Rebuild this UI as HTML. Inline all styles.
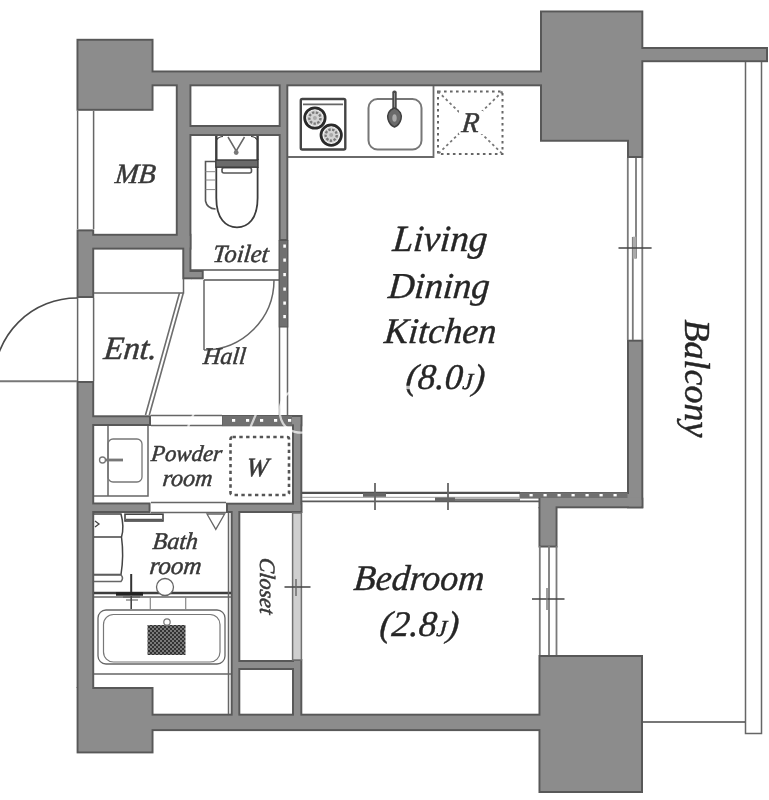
<!DOCTYPE html>
<html><head><meta charset="utf-8">
<style>
html,body{margin:0;padding:0;background:#fff;}
body{width:769px;height:800px;overflow:hidden;}
svg{display:block;filter:blur(0.45px);}
.t{font-family:"Liberation Serif",serif;font-style:italic;fill:#262626;stroke:#262626;stroke-width:0.42;}
.ln{fill:none;stroke:#666;stroke-width:1.5;}
.lk{fill:none;stroke:#555;stroke-width:1.3;}
.s{fill:#383838;stroke:#383838;stroke-width:0.5;}
.wf{fill:#8d8d8d;}
.ws{fill:#8d8d8d;stroke:#5f5f5f;stroke-width:2.6;stroke-linejoin:miter;}
</style></head>
<body>
<svg width="769" height="800" viewBox="0 0 769 800">
<defs>
<filter id="wallf" x="0" y="0" width="100%" height="100%" filterUnits="userSpaceOnUse">
  <feMorphology in="SourceAlpha" operator="erode" radius="1.7" result="er"/>
  <feFlood flood-color="#585858" result="dk"/>
  <feComposite in="dk" in2="SourceAlpha" operator="in" result="dks"/>
  <feComposite in="SourceGraphic" in2="er" operator="in" result="inner"/>
  <feMerge><feMergeNode in="dks"/><feMergeNode in="inner"/></feMerge>
</filter>
</defs>
<g filter="url(#wallf)" fill="#8c8c8c">
  <rect x="76.5" y="38.8" width="77.0" height="72.0"/>
  <rect x="153" y="70.5" width="387.5" height="15.8"/>
  <rect x="643" y="47" width="125" height="15.2"/>
  <rect x="175.8" y="85" width="15.6" height="164"/>
  <rect x="93" y="233.8" width="98.4" height="15.8"/>
  <rect x="76.6" y="229.4" width="17.6" height="68.6"/>
  <rect x="182.3" y="249" width="9.1" height="30.3"/>
  <rect x="191" y="270" width="12.7" height="9.3"/>
  <rect x="191" y="125" width="88" height="11"/>
  <rect x="278.7" y="85" width="9.6" height="156"/>
  <rect x="76.6" y="381" width="17.6" height="307"/>
  <rect x="76.6" y="687" width="76.9" height="66.4"/>
  <rect x="153" y="713.7" width="387" height="17.4"/>
  <rect x="538.5" y="655" width="104.5" height="138"/>
  <rect x="93" y="415.3" width="58" height="10.7"/>
  <rect x="222" y="415" width="80.3" height="11.3"/>
  <rect x="292" y="415" width="10.3" height="98"/>
  <rect x="93" y="502.5" width="57.5" height="10.5"/>
  <rect x="226" y="502.7" width="76.3" height="10.3"/>
  <rect x="230.7" y="512" width="9.6" height="202"/>
  <rect x="240" y="660" width="52" height="10"/>
  <rect x="292" y="659" width="10.3" height="56"/>
  <rect x="627" y="339.7" width="16.3" height="168.6"/>
  <rect x="538.5" y="497.7" width="104.8" height="10.6"/>
  <rect x="538.5" y="507" width="19.0" height="40.5"/>
  <rect x="519.5" y="492" width="108.5" height="6.5"/>
  <path d="M540,10.4 H643.3 V158 H627 V141.8 H540 Z"/>
</g>

<!-- left wall window (MB) -->
<path class="ln" d="M77.6,111 V229 M93.6,111 V229" stroke-width="1.8"/>
<!-- entrance door frame -->
<path class="ln" d="M77.6,298 V381 M93.6,298 V381" stroke-width="1.8"/>
<!-- entrance door -->
<path d="M0,381.2 H77" fill="none" stroke="#777" stroke-width="1.9"/><path d="M77,298 A83,83 0 0 0 -6,381" fill="none" stroke="#4a4a4a" stroke-width="1.6"/>

<!-- right LDK window -->
<path d="M627.8,158 V340 M642.3,158 V340 M636,158 V258.5 M632.8,237 V340" fill="none" stroke="#7a7a7a" stroke-width="1.8"/>
<!-- bedroom window -->
<path d="M539.8,546 V655 M556.5,546 V655 M549,546 V655" fill="none" stroke="#7a7a7a" stroke-width="1.8"/>

<!-- balcony -->
<path class="ln" d="M745.5,62 V733.5 H761.5 V62"/>
<path d="M643,722 H745" stroke="#4a4a4a" stroke-width="1.5"/>

<!-- kitchen counter -->
<path d="M288,157 H433.5 V86" fill="none" stroke="#6a6a6a" stroke-width="1.8"/>
<!-- stove -->
<rect x="300.8" y="99" width="44.5" height="50.5" rx="1.5" fill="none" stroke="#444" stroke-width="2.4"/>
<path d="M303,104.3 H343" stroke="#666" stroke-width="1.8"/>
<g>
<circle cx="314.9" cy="118" r="10.2" fill="#fff" stroke="#2a2a2a" stroke-width="2.8"/>
<circle cx="314.9" cy="118" r="8" fill="#d4d4d4"/><circle cx="314.9" cy="118" r="5.6" fill="none" stroke="#7a7a7a" stroke-width="2.4" stroke-dasharray="2.4,1.4"/>
<circle cx="314.9" cy="118" r="2" fill="#aaa"/>
<circle cx="331.2" cy="135.1" r="10.2" fill="#fff" stroke="#2a2a2a" stroke-width="2.8"/>
<circle cx="331.2" cy="135.1" r="8" fill="#d4d4d4"/><circle cx="331.2" cy="135.1" r="5.6" fill="none" stroke="#7a7a7a" stroke-width="2.4" stroke-dasharray="2.4,1.4"/>
<circle cx="331.2" cy="135.1" r="2" fill="#aaa"/>
</g>
<!-- sink -->
<rect x="368.5" y="99" width="53" height="50.5" rx="9" fill="none" stroke="#777" stroke-width="2"/>
<rect x="392.3" y="90.5" width="4.4" height="20" rx="2" fill="#4a4a4a"/><path d="M394.5,93 V108" stroke="#999" stroke-width="0.9"/>
<path d="M394.5,108 C400.5,110 402,115 401,119 C400,123 397,126 394.5,127 C392,126 389,123 388,119 C387,115 388.5,110 394.5,108 Z" fill="#6a6a6a" stroke="#3f3f3f" stroke-width="1.5"/><ellipse cx="394.5" cy="118" rx="2.2" ry="3.8" fill="#aaa"/>
<!-- fridge -->
<rect x="438" y="91.5" width="64.5" height="62.5" fill="none" stroke="#666" stroke-width="2" stroke-dasharray="2.6,3.4"/>
<path d="M438,91.5 L502.5,154 M502.5,91.5 L438,154" fill="none" stroke="#777" stroke-width="1.8" stroke-dasharray="2.6,2.8"/>
<rect x="459" y="111" width="24" height="23" fill="#fff"/>

<!-- toilet -->
<path class="lk" d="M191,270 H279 M204,280 H279"/>
<path class="ln" d="M204,280 V350 M204,350 A70,70 0 0 0 274,280"/>

<!-- shelf above Ent -->
<path class="ln" d="M94,293 H183.5 V279"/>
<!-- Ent step diagonal -->
<path d="M179.5,293 L145.5,415 M183.3,293 L149.3,415" fill="none" stroke="#6e6e6e" stroke-width="1.6"/>

<!-- hall right wall -->
<path class="ln" d="M279.5,241 V415 M287.5,241 V415"/>


<!-- powder room top wall double line -->
<path class="ln" d="M151,415.5 H222 M151,425.5 H222"/>
<path class="ln" d="M151,502.5 H226 M151,512.5 H226"/>

<!-- vanity -->
<path class="ln" d="M94,496 H148 V426 M108,426 V496"/>
<rect x="108" y="439" width="34" height="43" rx="5" fill="none" stroke="#777" stroke-width="1.3"/>
<path d="M104,460 H123" stroke="#777" stroke-width="2.8"/><circle cx="102.5" cy="460" r="3" fill="#fff" stroke="#777" stroke-width="1.3"/>

<!-- washer -->
<rect x="230.5" y="437" width="58.5" height="58" rx="2" fill="none" stroke="#555" stroke-width="2.6" stroke-dasharray="3.4,3.4"/>

<!-- LDK/bedroom partition -->
<path d="M302,492.8 H520" stroke="#505050" stroke-width="2.2"/>
<path d="M302,501.3 H540" stroke="#5a5a5a" stroke-width="1.8"/>
<path d="M302,497.3 H520" stroke="#9a9a9a" stroke-width="1"/>
<!-- bath -->
<path d="M94,593 H231" stroke="#3e3e3e" stroke-width="2.4"/><path d="M94,597 H231" stroke="#666" stroke-width="1.4"/>
<rect x="98" y="610" width="127" height="54" rx="8" fill="none" stroke="#666" stroke-width="1.3"/>
<rect x="103.5" y="614.5" width="116.5" height="47.5" rx="10" fill="none" stroke="#777" stroke-width="1.2"/>
<defs><pattern id="chk" width="4" height="4" patternUnits="userSpaceOnUse"><rect width="4" height="4" fill="#333"/><rect x="0" y="0" width="2" height="2" fill="#7a7a7a"/><rect x="2" y="2" width="2" height="2" fill="#7a7a7a"/></pattern></defs>
<rect x="147.5" y="625" width="38" height="30" fill="url(#chk)"/>
<circle cx="167" cy="622" r="3.2" fill="#fff" stroke="#777" stroke-width="1.2"/>
<path class="ln" d="M94,674 H231 M228.5,513 V714"/>
<circle cx="165" cy="587" r="8.5" fill="#fff" stroke="#666" stroke-width="1.3"/>

<path d="M207,514 H224.6 L215.8,529.4 Z" fill="none" stroke="#666" stroke-width="1.3"/>


<!-- closet right wall -->
<rect x="292.6" y="513" width="8.8" height="147" fill="#cfcfcf" stroke="#707070" stroke-width="1.5"/>



<!-- toilet fixture -->
<g fill="none" stroke="#3c3c3c" stroke-width="2">
  <path d="M216.3,136 V160 M257.6,136 V160" stroke-width="2.4"/>
  <path d="M216.5,140 Q219,136.5 223,136.5 M257.5,140 Q255,136.5 251,136.5" stroke-width="1.2"/>
  <path d="M228,137 L236.2,151 L244.5,137" stroke="#666" stroke-width="1.5"/>
  <path d="M216.3,167 V198 C216.3,219 226,227.3 237,227.3 C248,227.3 257.6,219 257.6,198 V167" stroke-width="1.8"/>
  <rect x="222" y="167.8" width="29.5" height="5.2" rx="2" stroke="#555" stroke-width="1.6"/>
  <path d="M215.6,161.5 H205.5 V201 Q207,208.5 215.6,209" stroke="#555" stroke-width="1.6"/>
  <path d="M205.5,171.7 H215.6 M205.5,180 H215.6 M205.5,189.6 H215.6" stroke="#888" stroke-width="1"/>
</g>
<rect x="215.8" y="160" width="42.2" height="7.2" fill="#6a6a6a" stroke="#3a3a3a" stroke-width="1.4"/>
<circle cx="236.2" cy="152.5" r="2.4" fill="#777"/>


<!-- dotted wall strips -->
<rect x="279.2" y="240.5" width="8.6" height="86.5" fill="#707070" stroke="#555" stroke-width="1"/>
<rect x="222.5" y="415.8" width="69.5" height="10" fill="#707070"/>
<rect x="520" y="492.5" width="107.5" height="5.5" fill="#707070"/>
<g fill="#fff">
<rect x="283.3" y="244.5" width="2.6" height="3.2"/><rect x="283.3" y="258.5" width="2.6" height="3.2"/><rect x="283.3" y="273.0" width="2.6" height="3.2"/><rect x="283.3" y="287.5" width="2.6" height="3.2"/><rect x="283.3" y="301.5" width="2.6" height="3.2"/><rect x="283.3" y="315.0" width="2.6" height="3.2"/>
<rect x="232.0" y="419" width="3.2" height="2.8"/><rect x="246.0" y="419" width="3.2" height="2.8"/><rect x="260.0" y="419" width="3.2" height="2.8"/><rect x="274.0" y="419" width="3.2" height="2.8"/><rect x="288.0" y="419" width="3.2" height="2.8"/><rect x="529.5" y="494" width="3.2" height="2.4"/><rect x="543.5" y="494" width="3.2" height="2.4"/><rect x="557.5" y="494" width="3.2" height="2.4"/><rect x="571.5" y="494" width="3.2" height="2.4"/><rect x="585.5" y="494" width="3.2" height="2.4"/><rect x="599.5" y="494" width="3.2" height="2.4"/><rect x="613.5" y="494" width="3.2" height="2.4"/>
</g>
<!-- window crosses & overlaps -->
<rect x="632.8" y="236.7" width="3.4" height="22" fill="#aaa"/>
<path d="M618.5,248 H651.6 M532,599 H564.5 M284.5,587 H310.5" stroke="#444" stroke-width="1.6"/>
<path d="M547,588 V610" stroke="#777" stroke-width="1.4"/>
<path d="M296,579 V596" stroke="#666" stroke-width="1.4"/>
<path d="M375,483 V510 M448,483 V510" stroke="#666" stroke-width="1.8"/>
<!-- partition details -->
<rect x="363" y="493" width="23" height="3.8" fill="#666"/>
<rect x="435" y="497.5" width="20" height="3.8" fill="#666"/>
<rect x="455" y="498.5" width="65" height="2.5" fill="#777"/>


<!-- bath left cabinet -->
<g fill="none" stroke="#444" stroke-width="1.5">
<path d="M94,514 H121 Q124.5,527 121.5,537 Q124,556 121,574.5 H94"/>
<path d="M94,537 H121.5"/>
<path d="M94,575 H121 Q124,578 121,581.5 H94" stroke="#666"/>
<path d="M95,521 L99,524 L95,527" stroke-width="1.3"/>
</g>
<rect x="125" y="514.2" width="38" height="6.8" fill="#fff" stroke="#444" stroke-width="1.6"/><path d="M126,519.6 H162" stroke="#555" stroke-width="1.6"/>
<path d="M131.2,574 V593" stroke="#333" stroke-width="2"/>
<path d="M116,594 H143" stroke="#222" stroke-width="3.5"/>
<path d="M123,597 H140 M126,600 H138" stroke="#555" stroke-width="1.2"/>
<path d="M131.2,596 V609" stroke="#444" stroke-width="1.6"/>
<path d="M150.3,597 V610 M185.7,597 V610" stroke="#888" stroke-width="1.2"/>

<!-- texts -->
<text class="t s" transform="translate(114.5,183.3) skewX(-6)" font-size="28">MB</text>
<text class="t s" transform="translate(212.3,261.5) skewX(-6)" font-size="24.8">Toilet</text>
<text class="t s" transform="translate(103,359.3) skewX(-6)" font-size="32.5">Ent.</text>
<text class="t s" transform="translate(202.5,364) skewX(-6)" font-size="24">Hall</text>
<text class="t s" transform="translate(461,131.5) skewX(-6)" font-size="28.5">R</text>
<text class="t s" transform="translate(150.5,461) skewX(-6)" font-size="22.8">Powder</text>
<text class="t s" transform="translate(162,486) skewX(-6)" font-size="24">room</text>
<text class="t s" transform="translate(245.5,475.5) skewX(-6)" font-size="26.5">W</text>
<text class="t s" transform="translate(152,549) skewX(-6)" font-size="24">Bath</text>
<text class="t s" transform="translate(149,574.2) skewX(-6)" font-size="25">room</text>
<text class="t s" font-size="22" transform="translate(259.5,557.3) rotate(90) skewX(-6)">Closet</text>
<text class="t" transform="translate(392.0,251.2) skewX(-5)" font-size="37">Living</text>
<text class="t" transform="translate(387.5,297.5) skewX(-5)" font-size="36.5">Dining</text>
<text class="t" transform="translate(383.5,342.5) skewX(-5)" font-size="36">Kitchen</text>
<text class="t" transform="translate(405.0,388.5) skewX(-5)" font-size="36">(8.0<tspan font-size="23">J</tspan>)</text>
<text class="t" transform="translate(353.0,589.5) skewX(-5)" font-size="36">Bedroom</text>
<text class="t" transform="translate(379.0,636.4) skewX(-5)" font-size="36">(2.8<tspan font-size="23">J</tspan>)</text>
<text class="t" font-size="36" transform="translate(685,319.5) rotate(90)">Balcony</text>

<!-- faint watermark -->
<g fill="none" stroke="#fff" stroke-opacity="0.7" stroke-width="2.2">
<path d="M194,413 L188,427"/>
<path d="M256.5,413 L250.5,427"/>
<path d="M302,389 C286,389 278,402 280,415 C282,428 293,435 308,432"/>
<path d="M403,387.5 H412" stroke-width="3.5"/>
</g>
</svg>
</body></html>
